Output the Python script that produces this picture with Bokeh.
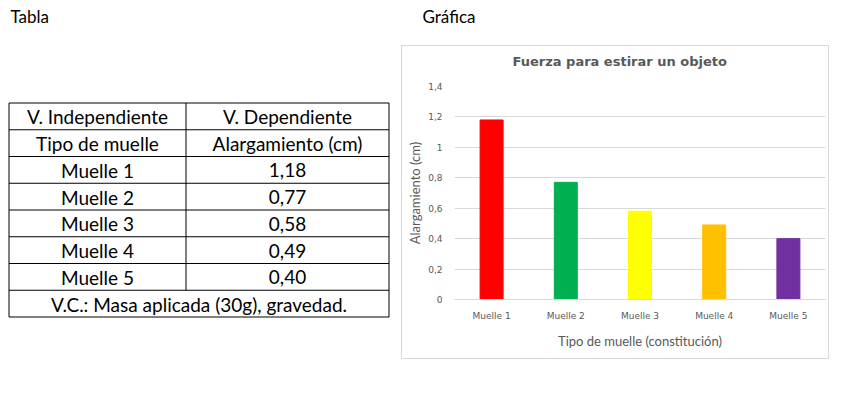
from bokeh.plotting import figure
from bokeh.models import FactorRange, Range1d, FixedTicker, ColumnDataSource, Title
from bokeh.layouts import column, row
from bokeh.embed import file_html
from bokeh.resources import INLINE
from bokeh.core.properties import value

# ---------------- data ----------------
categories = ["Muelle 1", "Muelle 2", "Muelle 3", "Muelle 4", "Muelle 5"]
alargamiento = [1.18, 0.77, 0.58, 0.49, 0.40]
bar_colors = ["#FF0000", "#00B050", "#FFFF00", "#FFC000", "#7030A0"]
y_ticks = [0, 0.2, 0.4, 0.6, 0.8, 1.0, 1.2, 1.4]
y_tick_labels = ["0", "0,2", "0,4", "0,6", "0,8", "1", "1,2", "1,4"]
header_row1 = ["V. Independiente", "V. Dependiente"]
header_row2 = ["Tipo de muelle", "Alargamiento (cm)"]
footer_text = "V.C.: Masa aplicada (30g), gravedad."
title_text = "Fuerza para estirar un objeto"
x_axis_title = "Tipo de muelle (constitución)"
y_axis_title = "Alargamiento (cm)"
label_tabla = "Tabla"
label_grafica = "Gráfica"

TABLE_FONT = "Lato"
GRAY = "#595959"


def blank(width, height):
    f = figure(width=width, height=height, x_range=Range1d(0, width),
               y_range=Range1d(height, 0), output_backend="svg",
               toolbar_location=None, min_border=0, frame_align=False)
    f.axis.visible = False
    f.grid.visible = False
    f.outline_line_color = None
    return f


# ---------------- header ----------------
hdr = blank(829, 45)
hdr.text(x=[10, 422], y=[16, 16], text=[label_tabla, label_grafica],
         text_font=value(TABLE_FONT), text_font_size="17px",
         text_color="#000000", text_baseline="middle", text_align="left")

# ---------------- table ----------------
tab = blank(401, 340)
x_left, x_mid, x_right = 8.5, 185.5, 388.5
y_top = 57.5
row_h = 26.75
n_rows = 2 + len(categories) + 1
row_y = [y_top + i * row_h for i in range(n_rows + 1)]

tab.segment(x0=[x_left] * len(row_y), x1=[x_right] * len(row_y),
            y0=row_y, y1=row_y, line_color="#000000", line_width=1)
tab.segment(x0=[x_left, x_right], x1=[x_left, x_right],
            y0=[row_y[0]] * 2, y1=[row_y[-1]] * 2,
            line_color="#000000", line_width=1)
tab.segment(x0=[x_mid], x1=[x_mid], y0=[row_y[0]], y1=[row_y[-2]],
            line_color="#000000", line_width=1)

c1 = (x_left + x_mid) / 2
c2 = (x_mid + x_right) / 2
col1 = [header_row1[0], header_row2[0]] + categories
col2 = [header_row1[1], header_row2[1]] + [f"{v:.2f}".replace(".", ",") for v in alargamiento]
ys = [(row_y[i] + row_y[i + 1]) / 2 + 0.5 for i in range(len(col1))]
common = dict(text_font=value(TABLE_FONT), text_font_size="19px",
              text_color="#000000", text_align="center", text_baseline="middle")
tab.text(x=[c1] * len(col1), y=ys, text=col1, **common)
tab.text(x=[c2] * len(col2), y=ys, text=col2, **common)
tab.text(x=[(x_left + x_right) / 2], y=[(row_y[-2] + row_y[-1]) / 2 + 0.5],
         text=[footer_text], **common)

# ---------------- chart ----------------
src = ColumnDataSource(dict(cat=categories, val=alargamiento, color=bar_colors))
p = figure(width=428, height=314, x_range=FactorRange(factors=categories, range_padding=0),
           y_range=Range1d(0, 1.4), output_backend="svg", toolbar_location=None,
           min_border_left=52, min_border_right=5, min_border_top=38,
           min_border_bottom=61, frame_align=False)
p.styles = {"border": "1px solid #d9d9d9", "box-sizing": "border-box"}
p.vbar(x="cat", top="val", width=0.31, color="color", source=src)

# spacer panel next to the plot area (white, invisible), then the title outside it
p.add_layout(Title(text=" ", text_font_size="6px", standoff=5, text_color="#ffffff"), "above")
p.add_layout(Title(text=title_text, text_font="DejaVu Sans", text_font_size="13px",
                   text_font_style="bold", text_color=GRAY, align="left",
                   offset=58, standoff=10), "above")

p.outline_line_color = None
p.xgrid.grid_line_color = None
p.ygrid.grid_line_color = "#d9d9d9"
p.yaxis.ticker = FixedTicker(ticks=y_ticks)
p.yaxis.major_label_overrides = dict(zip(y_ticks, y_tick_labels))

for ax in (p.xaxis[0], p.yaxis[0]):
    ax.major_tick_line_color = None
    ax.minor_tick_line_color = None
    ax.major_tick_out = 0
    ax.major_tick_in = 0
    ax.minor_tick_out = 0
    ax.minor_tick_in = 0
    ax.major_label_text_font = "DejaVu Sans"
    ax.major_label_text_font_size = "9px"
    ax.major_label_text_color = GRAY
    ax.axis_label_text_font = TABLE_FONT
    ax.axis_label_text_font_size = "13px"
    ax.axis_label_text_font_style = "normal"
    ax.axis_label_text_color = GRAY

p.xaxis.axis_line_color = "#d9d9d9"
p.yaxis.axis_line_color = None
p.xaxis.axis_label = x_axis_title
p.yaxis.axis_label = y_axis_title
p.xaxis.major_label_standoff = 11
p.xaxis.axis_label_standoff = 9
p.yaxis.major_label_standoff = 12
p.yaxis.axis_label_standoff = 2

layout = column(hdr, row(tab, p))
open("out.html", "w").write(file_html(layout, INLINE))
